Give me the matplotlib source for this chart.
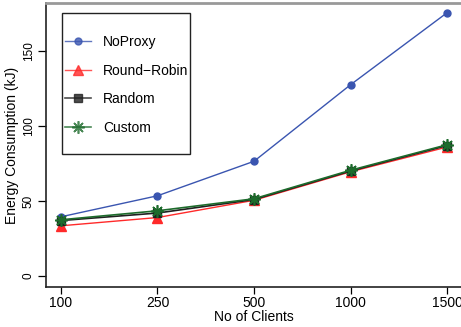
import numpy as np
import matplotlib
matplotlib.use('Agg')
import matplotlib.pyplot as plt
from matplotlib.patches import Rectangle

plt.rcParams['font.family'] = ['Liberation Sans', 'DejaVu Sans']

# data
clients = ['100', '250', '500', '1000', '1500']
noproxy = [39.5, 53.5, 76.5, 127.5, 175.5]
round_robin = [33.5, 39.0, 50.5, 69.5, 86.0]
random_sel = [37.0, 42.0, 51.0, 70.0, 87.0]
custom = [37.5, 43.5, 51.5, 70.5, 87.5]

x = np.arange(len(clients))

W, H = 461, 327
fig = plt.figure(figsize=(W / 100, H / 100), dpi=100)
ax_l, ax_b, ax_w, ax_h = 46, 40, 416, 284
ax = fig.add_axes([ax_l / W, ax_b / H, ax_w / W, ax_h / H])

ax.plot(x, noproxy, color='#3a55b0', marker='o', markersize=5, lw=1, label='NoProxy')
ax.plot(x, round_robin, color='#ff2a2a', marker='^', markersize=7, lw=1, label='Round\u2212Robin')
ax.plot(x, random_sel, color='#202020', marker='s', markersize=6, lw=1.2, label='Random')
ax.plot(x, custom, color='#1d6b2c', marker=(8, 2, 0), markersize=9, mew=1.2, lw=1.2, label='Custom')

ax.set_xlim(-0.155, 4.155)
ax.set_ylim(-7.3, 182)
ax.set_xticks(x)
ax.set_xticklabels(clients, fontsize=10)
ax.set_yticks([0, 50, 100, 150])
ax.set_yticklabels(['0', '50', '100', '150'], fontsize=8.5, rotation=90, va='center')
ax.tick_params(direction='out', length=6, width=0.9, pad=2)
ax.tick_params(axis='x', length=5, pad=1.5)

for side in ['left', 'bottom']:
    ax.spines[side].set_color('#222222')
    ax.spines[side].set_linewidth(1.2)
ax.spines['top'].set_color('#999999')
ax.spines['top'].set_linewidth(2)
ax.spines['right'].set_color('#999999')

ax.set_xlabel('No of Clients', fontsize=10, labelpad=0)
ax.set_ylabel('Energy Consumption (kJ)', fontsize=10, labelpad=3)

# legend box drawn by hand (R style: tall padding, tight sides)
def px2ax(px, py):
    return (px - ax_l) / ax_w, 1 - (py - (H - ax_b - ax_h)) / ax_h

bx0, by0 = px2ax(62, 154)
bx1, by1 = px2ax(190, 13)
ax.add_patch(Rectangle((bx0, by0), bx1 - bx0, by1 - by0, transform=ax.transAxes,
                       fill=True, facecolor='white', edgecolor='#222222', lw=1.0, zorder=5))
lx, ly = px2ax(65, 35)
leg = ax.legend(loc='upper left', bbox_to_anchor=(lx, ly), fontsize=10, frameon=False,
                borderpad=0, labelspacing=1.05, handlelength=1.9, handletextpad=0.85,
                borderaxespad=0)
leg.set_zorder(6)
for h in leg.get_lines():
    h.set_alpha(0.8)

fig.savefig('out.png', dpi=100)
